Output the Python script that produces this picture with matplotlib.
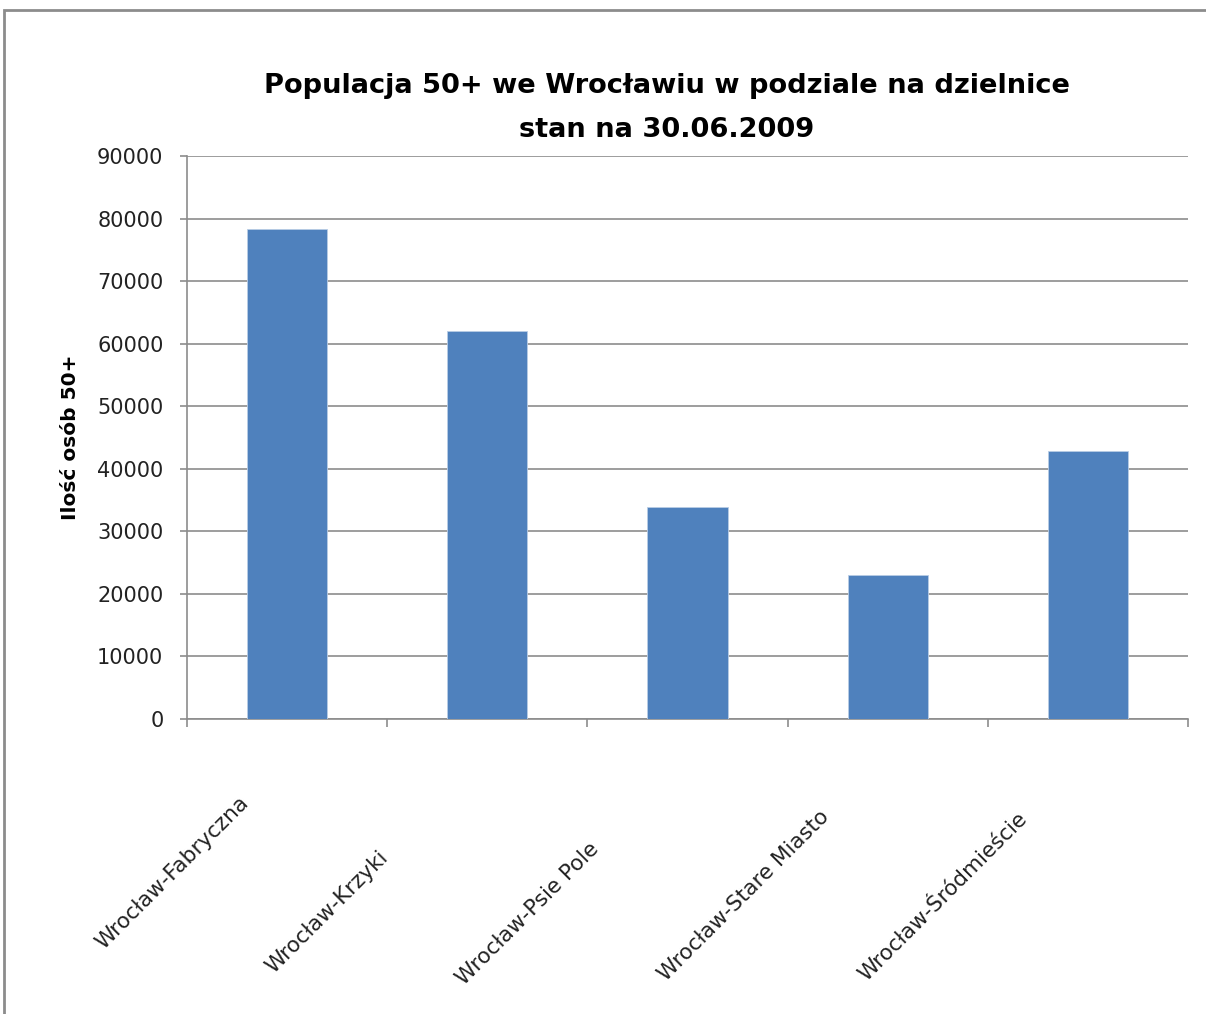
import matplotlib.pyplot as plt
from matplotlib import transforms
from matplotlib.patches import Rectangle
import numpy as np

districts = ["Wrocław-Fabryczna", "Wrocław-Krzyki", "Wrocław-Psie Pole",
             "Wrocław-Stare Miasto", "Wrocław-Śródmieście"]
population = [78300, 62100, 33900, 23000, 42800]
yticks = [0, 10000, 20000, 30000, 40000, 50000, 60000, 70000, 80000, 90000]

bar_color = "#4F81BD"
grid_color = "#8C8C8C"

plt.rcParams['font.family'] = ['DejaVu Sans']

fig = plt.figure(figsize=(12.06, 10.14), dpi=100)
ax = fig.add_axes([187 / 1206, 1 - 719 / 1014, (1188 - 187) / 1206, (719 - 156) / 1014])

x = np.arange(len(districts))
ax.bar(x, population, width=0.4, color=bar_color, edgecolor="#B9CDE5", linewidth=0.6, zorder=3)

ax.set_xlim(-0.5, len(districts) - 0.5)
ax.set_ylim(0, 90000)
ax.set_yticks(yticks)
ax.set_yticklabels([str(v) for v in yticks], fontsize=15, color="#222222")
ax.yaxis.grid(True, color=grid_color, linewidth=1.2, zorder=0)
ax.tick_params(axis="y", length=5, width=1.2, color=grid_color, pad=12)

# kategorie: kreski miedzy slupkami
ax.set_xticks(x)
ax.set_xticks(np.arange(-0.5, len(districts)), minor=True)
ax.tick_params(axis="x", which="major", length=0)
ax.tick_params(axis="x", which="minor", length=6, width=1.2, color=grid_color)
ax.set_xticklabels(districts, fontsize=15.5, color="#222222", rotation=45,
                   rotation_mode="anchor", ha="left", va="baseline")
# przesuniecia etykiet (px) jak w Excelu
nudge = [(-184, -226), (-214, -250), (-224, -262), (-222, -258), (-222, -258)]
for lab, (dx, dy) in zip(ax.get_xticklabels(), nudge):
    shift = transforms.ScaledTranslation(dx / 100, dy / 100, fig.dpi_scale_trans)
    lab.set_transform(lab.get_transform() + shift)

for side in ["top", "right"]:
    ax.spines[side].set_visible(False)
for side in ["left", "bottom"]:
    ax.spines[side].set_color(grid_color)
    ax.spines[side].set_linewidth(1.2)

ax.set_ylabel("Ilość osób 50+", fontsize=14.5, fontweight="bold", labelpad=12)

fig.text(667 / 1206, 1 - 86 / 1014, "Populacja 50+ we Wrocławiu w podziale na dzielnice",
         ha="center", va="center", fontsize=19.6, fontweight="bold")
fig.text(667 / 1206, 1 - 130 / 1014, "stan na 30.06.2009",
         ha="center", va="center", fontsize=19.6, fontweight="bold")

# ramka wykresu
fig.patches.append(Rectangle((4 / 1206, -0.05), 1.2, 1.05 - 10 / 1014, transform=fig.transFigure,
                             fill=False, edgecolor=grid_color, linewidth=2))

fig.savefig("out.png", dpi=100)
